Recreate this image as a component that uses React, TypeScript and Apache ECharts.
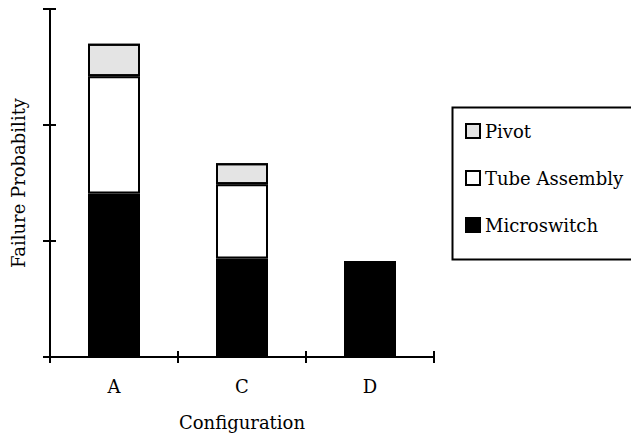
import React, { useEffect, useRef } from "react";
import * as echarts from "echarts";

const categories = ["A", "C", "D"];
const microswitch = [1.41, 0.85, 0.82];
const tubeAssembly = [1.01, 0.64, 0];
const pivot = [0.28, 0.18, 0];
const yTickValues = [0, 1, 2, 3];

const FONT = "DejaVu Serif";

export default function App() {
  const ref = useRef<HTMLDivElement>(null);
  useEffect(() => {
    document.body.style.margin = "0";
    if (!ref.current) return;
    const chart = echarts.init(ref.current, undefined, { renderer: "svg" });
    const border = { borderColor: "#000", borderWidth: 2 };
    const pivotDecal = {
      symbol: "circle",
      symbolSize: 0.7,
      color: "rgba(40,40,40,0.5)",
      dashArrayX: [1, 2],
      dashArrayY: [1, 2],
      rotation: 0.5,
    };
    const tickStyle = { color: "#000", width: 2 };
    const yMin = yTickValues[0];
    const yMax = yTickValues[yTickValues.length - 1];
    const lineStyle = { stroke: "#000", lineWidth: 2 };
    const INNER = 6;

    chart.setOption({
      animation: false,
      backgroundColor: "#fff",
      textStyle: { fontFamily: FONT, color: "#000" },
      grid: { left: 50, top: 9, right: 631 - 434, bottom: 436 - 357, containLabel: false },
      legend: {
        orient: "vertical",
        left: 460,
        top: 117,
        itemWidth: 14,
        itemHeight: 14,
        itemGap: 29,
        icon: "rect",
        data: ["Pivot", "Tube Assembly", "Microswitch"],
        textStyle: { fontFamily: FONT, fontSize: 18, color: "#000" },
      },
      graphic: [
        {
          type: "rect",
          left: 450,
          top: 105,
          shape: { width: 200, height: 152 },
          style: { fill: "none", stroke: "#000", lineWidth: 2 },
          silent: true,
        },
      ],
      xAxis: {
        type: "category",
        data: categories,
        name: "Configuration",
        nameLocation: "middle",
        nameGap: 56,
        nameTextStyle: { fontFamily: FONT, fontSize: 18, color: "#000" },
        axisLine: { lineStyle: { color: "#000", width: 2 } },
        axisTick: { show: true, length: 6, inside: false, lineStyle: tickStyle },
        axisLabel: { fontFamily: FONT, fontSize: 18, color: "#000", margin: 20 },
      },
      yAxis: {
        type: "value",
        min: yMin,
        max: yMax,
        interval: 1,
        name: "Failure Probability",
        nameLocation: "middle",
        nameGap: 23,
        nameRotate: 90,
        nameTextStyle: { fontFamily: FONT, fontSize: 18, color: "#000" },
        axisLine: { show: true, lineStyle: { color: "#000", width: 2 } },
        axisTick: { show: true, length: 7, inside: false, lineStyle: tickStyle },
        axisLabel: { show: false },
        splitLine: { show: false },
      },
      series: [
        {
          name: "Microswitch",
          type: "bar",
          stack: "total",
          barWidth: 52,
          data: microswitch,
          itemStyle: { color: "#000", ...border },
        },
        {
          name: "Tube Assembly",
          type: "bar",
          stack: "total",
          barWidth: 52,
          data: tubeAssembly,
          itemStyle: { color: "#fff", ...border },
        },
        {
          name: "Pivot",
          type: "bar",
          stack: "total",
          barWidth: 52,
          data: pivot,
          itemStyle: { color: "#e4e4e4", decal: pivotDecal, ...border },
        },
        {
          // inner halves of the y-axis ticks (ticks cross the axis)
          name: "yTicksInner",
          type: "custom",
          silent: true,
          clip: false,
          z: 10,
          data: yTickValues.map((v) => [0, v]),
          renderItem: (_params: any, api: any) => {
            const p = api.coord([api.value(0), api.value(1)]);
            const band = api.size([1, 0])[0];
            const x = p[0] - band / 2;
            return {
              type: "line",
              shape: { x1: x, y1: p[1], x2: x + INNER, y2: p[1] },
              style: lineStyle,
            };
          },
        },
        {
          // inner halves of the x-axis ticks at category boundaries
          name: "xTicksInner",
          type: "custom",
          silent: true,
          clip: false,
          z: 10,
          data: categories.map((_c, i) => [i, yMin]),
          renderItem: (params: any, api: any) => {
            const p = api.coord([api.value(0), api.value(1)]);
            const band = api.size([1, 0])[0];
            const xl = p[0] - band / 2;
            const children: any[] = [
              { type: "line", shape: { x1: xl, y1: p[1], x2: xl, y2: p[1] - INNER }, style: lineStyle },
            ];
            if (params.dataIndex === categories.length - 1) {
              const xr = p[0] + band / 2;
              children.push({
                type: "line",
                shape: { x1: xr, y1: p[1], x2: xr, y2: p[1] - INNER },
                style: lineStyle,
              });
            }
            return { type: "group", children };
          },
        },
      ],
    });
    return () => chart.dispose();
  }, []);
  return <div ref={ref} style={{ width: 631, height: 436 }} />;
}
